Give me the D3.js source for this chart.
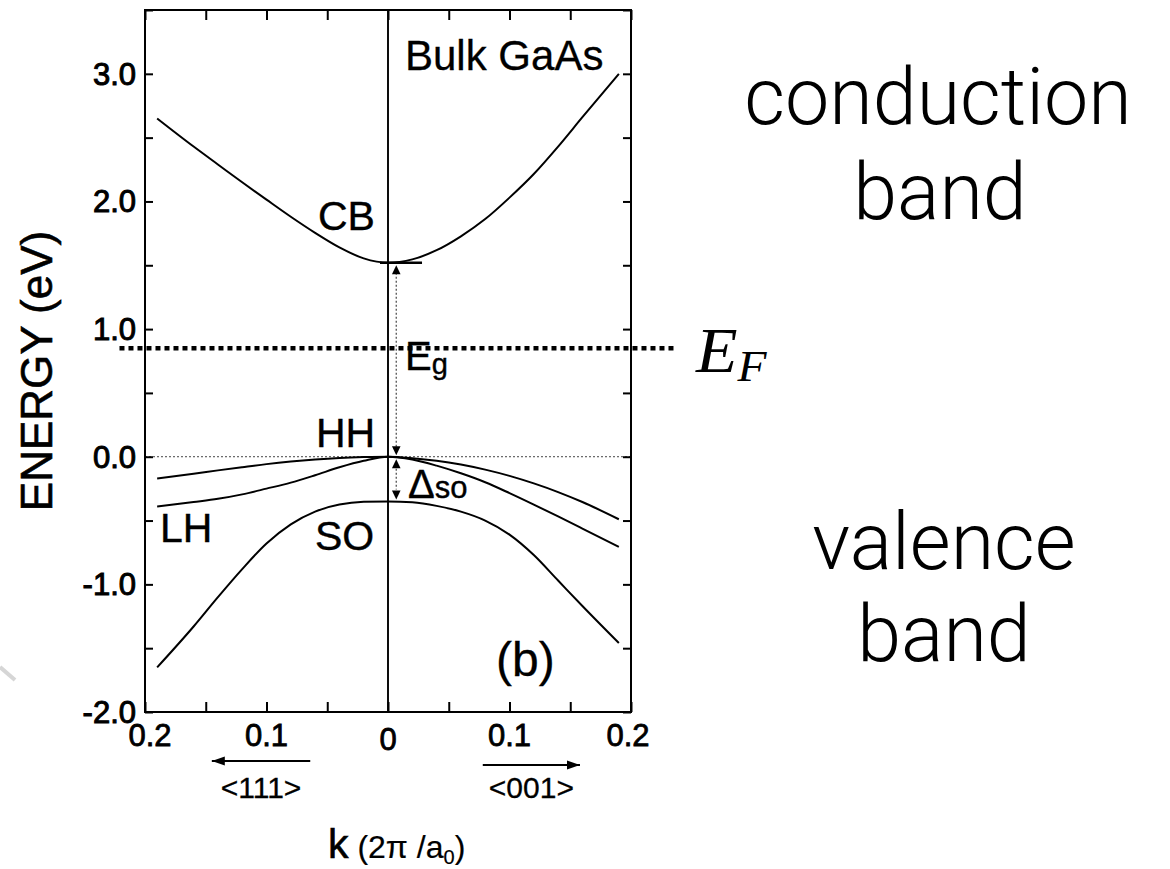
<!DOCTYPE html>
<html>
<head>
<meta charset="utf-8">
<script src="https://cdn.jsdelivr.net/npm/d3@7"></script>
<style>
  html, body { margin: 0; padding: 0; background: #fff; }
  svg { display: block; }
</style>
</head>
<body>
<svg id="chart" width="1170" height="869"></svg>
<script>
// Wave-vector samples away from the Γ point, in units of 2π/a0
const kSteps = [0, 0.02, 0.04, 0.06, 0.08, 0.10, 0.12, 0.14, 0.16, 0.19];

// Band energies (eV): <111> direction is drawn to the left, <001> to the right
const cb111 = [1.52, 1.554, 1.64, 1.754, 1.88, 2.014, 2.15, 2.29, 2.43, 2.65];
const cb001 = [1.52, 1.546, 1.618, 1.727, 1.862, 2.03, 2.215, 2.43, 2.66, 3.0];
const hh111 = [0, -0.003, -0.01, -0.022, -0.038, -0.058, -0.082, -0.107, -0.134, -0.17];
const hh001 = [0, -0.011, -0.031, -0.061, -0.101, -0.15, -0.209, -0.277, -0.355, -0.49];
const lh111 = [0, -0.032, -0.083, -0.145, -0.203, -0.25, -0.295, -0.33, -0.355, -0.39];
const lh001 = [0, -0.022, -0.07, -0.13, -0.2, -0.285, -0.375, -0.468, -0.563, -0.707];
const so111 = [-0.35, -0.353, -0.375, -0.43, -0.53, -0.68, -0.88, -1.10, -1.33, -1.65];
const so001 = [-0.35, -0.357, -0.385, -0.43, -0.50, -0.61, -0.77, -0.97, -1.17, -1.46];

// Characteristic energies (eV)
const cbMin = 1.52;      // conduction-band edge
const vbTop = 0.0;       // valence-band maximum (HH/LH)
const soTop = -0.35;     // split-off band maximum
const fermiLevel = 0.85; // E_F

// Axis ticks and labels
const yLabelValues = [-2, -1, 0, 1, 2, 3];
const yLabelText = ["-2.0", "-1.0", "0.0", "1.0", "2.0", "3.0"];
const yMinorTicks = [-2, -1.5, -1, -0.5, 0, 0.5, 1, 1.5, 2, 2.5, 3, 3.5];
const xLabelValues = [-0.2, -0.1, 0, 0.1, 0.2];
const xLabelText = ["0.2", "0.1", "0", "0.1", "0.2"];
const xMinorTicks = [-0.2, -0.15, -0.1, -0.05, 0, 0.05, 0.1, 0.15, 0.2];

// Direction arrows under the k axis
const dir111 = { from: -0.064, to: -0.145, label: "<111>" };
const dir001 = { from: 0.078, to: 0.158, label: "<001>" };

// ---------------------------------------------------------------
const frame = { left: 145, right: 631, top: 10, bottom: 712 };
const x = d3.scaleLinear().domain([-0.2, 0.2]).range([frame.left, frame.right]);
const y = d3.scaleLinear().domain([-2, 3.5]).range([frame.bottom, frame.top]);
const SANS = "'Liberation Sans', Arial, Helvetica, sans-serif";
const SERIF = "'Liberation Serif', 'DejaVu Serif', serif";
const LIGHT = "Roboto, 'Open Sans', 'Noto Sans', sans-serif";

const svg = d3.select("#chart");

function label(g, px, py, txt, o = {}) {
  const t = g.append("text")
    .attr("transform", `translate(${px},${py})` + (o.sx ? ` scale(${o.sx},1)` : ""))
    .attr("font-family", o.family || SANS)
    .attr("font-size", o.size || 30)
    .attr("text-anchor", o.anchor || "start")
    .attr("fill", "#000");
  if (o.heavy) t.attr("stroke", "#000").attr("stroke-width", o.heavy);
  if (o.weight) t.attr("font-weight", o.weight);
  if (o.style) t.attr("font-style", o.style);
  if (txt !== null) t.text(txt);
  return t;
}

function arrowHead(g, px, py, dir, len = 9, half = 4.3) {
  let pts;
  if (dir === "up") pts = [[px, py], [px - half, py + len], [px + half, py + len]];
  if (dir === "down") pts = [[px, py], [px - half, py - len], [px + half, py - len]];
  if (dir === "left") pts = [[px, py], [px + len, py - half], [px + len, py + half]];
  if (dir === "right") pts = [[px, py], [px - len, py - half], [px - len, py + half]];
  g.append("path").attr("d", "M" + pts.map(p => p.join(",")).join("L") + "Z").attr("fill", "#000");
}

// faint stroke at the lower-left edge
svg.append("line").attr("x1", 0).attr("y1", 667).attr("x2", 15).attr("y2", 680)
  .attr("stroke", "#d6d6d6").attr("stroke-width", 4);

const plot = svg.append("g");

// zero-energy reference line
plot.append("line")
  .attr("x1", x(-0.2)).attr("x2", x(0.2))
  .attr("y1", y(vbTop)).attr("y2", y(vbTop))
  .attr("stroke", "#444").attr("stroke-width", 1).attr("stroke-dasharray", "2,2");

// bands
function bandPoints(left, right) {
  const pts = [];
  for (let i = kSteps.length - 1; i > 0; i--) pts.push([-kSteps[i], left[i]]);
  for (let i = 0; i < kSteps.length; i++) pts.push([kSteps[i], right[i]]);
  return pts;
}
const bandLine = d3.line().x(d => x(d[0])).y(d => y(d[1])).curve(d3.curveMonotoneX);
const bands = [
  bandPoints(cb111, cb001),
  bandPoints(hh111, hh001),
  bandPoints(lh111, lh001),
  bandPoints(so111, so001)
];
plot.selectAll("path.band").data(bands).join("path")
  .attr("class", "band")
  .attr("d", bandLine)
  .attr("fill", "none").attr("stroke", "#000").attr("stroke-width", 2);

// Γ line
plot.append("line")
  .attr("x1", x(0)).attr("x2", x(0)).attr("y1", frame.top).attr("y2", frame.bottom)
  .attr("stroke", "#000").attr("stroke-width", 1.9);

// conduction-band edge marker
plot.append("line")
  .attr("x1", x(-0.0066)).attr("x2", x(0.028))
  .attr("y1", y(cbMin)).attr("y2", y(cbMin))
  .attr("stroke", "#000").attr("stroke-width", 2.4);

// band-gap and split-off arrows
const arrowX = x(0.0068);
plot.append("line").attr("x1", arrowX).attr("x2", arrowX)
  .attr("y1", y(cbMin) + 10).attr("y2", y(vbTop) - 10)
  .attr("stroke", "#555").attr("stroke-width", 1.3).attr("stroke-dasharray", "2,2");
arrowHead(plot, arrowX, y(cbMin) + 2.5, "up");
arrowHead(plot, arrowX, y(vbTop) - 1.5, "down");
plot.append("line").attr("x1", arrowX).attr("x2", arrowX)
  .attr("y1", y(vbTop) + 12).attr("y2", y(soTop) - 12)
  .attr("stroke", "#555").attr("stroke-width", 1.3).attr("stroke-dasharray", "2,2");
arrowHead(plot, arrowX, y(vbTop) + 2.5, "up");
arrowHead(plot, arrowX, y(soTop) - 2, "down");

// Fermi level
plot.append("line")
  .attr("x1", x(-0.221)).attr("x2", x(0.238))
  .attr("y1", y(fermiLevel)).attr("y2", y(fermiLevel))
  .attr("stroke", "#000").attr("stroke-width", 4.5).attr("stroke-dasharray", "5,4");

// frame
svg.append("rect")
  .attr("x", frame.left).attr("y", frame.top)
  .attr("width", frame.right - frame.left).attr("height", frame.bottom - frame.top)
  .attr("fill", "none").attr("stroke", "#000").attr("stroke-width", 2);

// inward ticks on all four sides
function ticks(axis, tx, ty) {
  svg.append("g").attr("transform", `translate(${tx},${ty})`)
    .call(axis.tickFormat(() => "").tickSizeOuter(0))
    .call(g => g.select(".domain").remove())
    .call(g => g.selectAll("line").attr("stroke", "#000").attr("stroke-width", 2));
}
ticks(d3.axisRight(y).tickValues(yMinorTicks).tickSize(8), frame.left, 0);
ticks(d3.axisLeft(y).tickValues(yMinorTicks).tickSize(8), frame.right, 0);
ticks(d3.axisTop(x).tickValues(xMinorTicks).tickSize(10), 0, frame.bottom);
ticks(d3.axisBottom(x).tickValues(xMinorTicks).tickSize(10), 0, frame.top);

// tick labels
const txt = svg.append("g");
yLabelValues.forEach((v, i) =>
  label(txt, 136, y(v) + 11, yLabelText[i], { size: 31, anchor: "end", heavy: 1 }));
const xNudge = [5, 0, 0, 0, -3];
xLabelValues.forEach((v, i) =>
  label(txt, x(v) + xNudge[i], v === 0 ? 750 : 746, xLabelText[i], { size: 31, anchor: "middle", heavy: 0.8 }));

// direction arrows
[[dir111, 761], [dir001, 765]].forEach(([d, yy]) => {
  txt.append("line").attr("x1", x(d.from)).attr("x2", x(d.to)).attr("y1", yy).attr("y2", yy)
    .attr("stroke", "#000").attr("stroke-width", 2);
  arrowHead(txt, x(d.to), yy, d.to < 0 ? "left" : "right", 13, 4.5);
  label(txt, x((d.from + d.to) / 2), 798, d.label, { size: 30, anchor: "middle", heavy: 0.3 });
});

// axis titles
const kt = label(txt, 328, 858, null, { size: 41, heavy: 0.6 });
kt.append("tspan").text("k");
kt.append("tspan").attr("font-size", 32).attr("stroke-width", 0.2).text(" (2\u03C0 /a");
kt.append("tspan").attr("font-size", 20).attr("stroke-width", 0.2).attr("dy", 6).text("0");
kt.append("tspan").attr("font-size", 32).attr("stroke-width", 0.2).attr("dy", -6).text(")");

txt.append("text")
  .attr("transform", "translate(52,371) rotate(-90)")
  .attr("font-family", SANS).attr("font-size", 44).attr("text-anchor", "middle")
  .attr("stroke", "#000").attr("stroke-width", 0.6)
  .text("ENERGY (eV)");

// band annotations
label(txt, 405, 70, "Bulk GaAs", { size: 42, heavy: 0.3 });
label(txt, 318, 230, "CB", { size: 41, heavy: 0.4 });
label(txt, 316, 447, "HH", { size: 41, heavy: 0.4 });
label(txt, 160, 542, "LH", { size: 41, heavy: 0.4 });
label(txt, 315, 550, "SO", { size: 41, heavy: 0.4 });
label(txt, 496, 676, "(b)", { size: 48, heavy: 0.3 });
const eg = label(txt, 405, 370, null, { size: 40, heavy: 0.4 });
eg.append("tspan").text("E");
eg.append("tspan").attr("font-size", 29).attr("dy", 4).text("g");
const dso = label(txt, 408, 498, null, { size: 40, heavy: 0.4 });
dso.append("tspan").text("\u0394");
dso.append("tspan").attr("font-size", 31).text("so");

// Fermi-level symbol
const ef = label(svg, 696, 372, null, { size: 63, family: SERIF, style: "italic", sx: 1.08 });
ef.append("tspan").text("E");
ef.append("tspan").attr("font-size", 44).attr("dy", 9).text("F");

// side captions
label(svg, 938, 124, "conduction", { size: 79, anchor: "middle", family: LIGHT, weight: 300 });
label(svg, 940, 219, "band", { size: 79, anchor: "middle", family: LIGHT, weight: 300 });
label(svg, 944, 569, "valence", { size: 79, anchor: "middle", family: LIGHT, weight: 300 });
label(svg, 944, 661, "band", { size: 79, anchor: "middle", family: LIGHT, weight: 300 });
</script>
</body>
</html>
